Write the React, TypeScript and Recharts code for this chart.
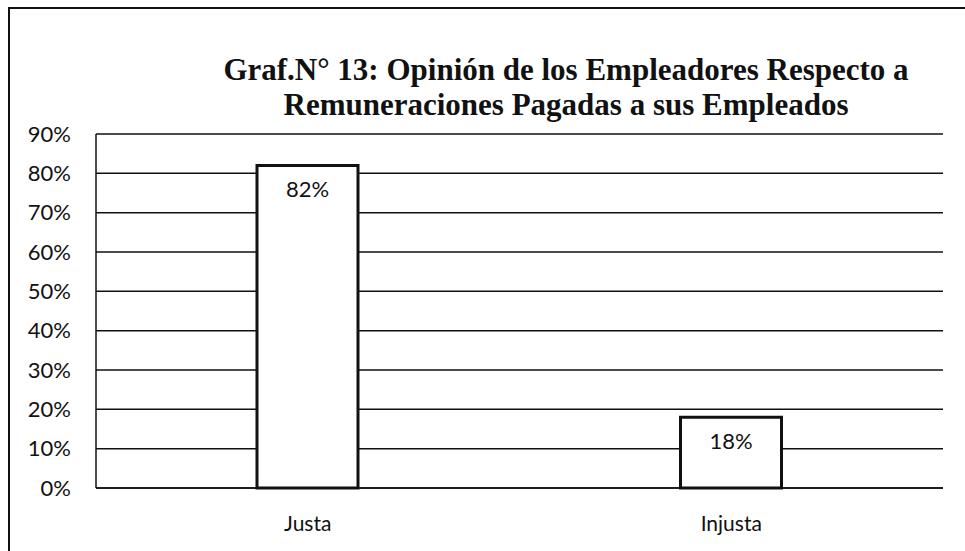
import { BarChart, Bar, XAxis, YAxis, CartesianGrid, LabelList } from "recharts";

const categories = ["Justa", "Injusta"];
const shares = [82, 18];
const yTicks = [0, 10, 20, 30, 40, 50, 60, 70, 80, 90];
const titleLines = [
  "Graf.N° 13: Opinión de los Empleadores Respecto a",
  "Remuneraciones Pagadas a sus Empleados",
];

const data = categories.map((name, i) => ({ name, value: shares[i] }));

const ink = "#111";
const labelFont = "Lato, 'Open Sans', sans-serif";

export default function App() {
  return (
    <div
      style={{
        position: "fixed",
        left: 0,
        top: 0,
        width: 965,
        height: 551,
        background: "white",
        overflow: "hidden",
      }}
    >
      <div
        style={{
          position: "absolute",
          left: 8,
          top: 7,
          width: 980,
          height: 580,
          border: `2px solid ${ink}`,
        }}
      />
      <div
        style={{
          position: "absolute",
          left: 166,
          top: 52,
          width: 800,
          textAlign: "center",
          fontFamily: "'Liberation Serif', 'Times New Roman', serif",
          fontWeight: 700,
          fontSize: 31,
          lineHeight: "35px",
          color: ink,
          whiteSpace: "nowrap",
        }}
      >
        {titleLines.map((t) => (
          <div key={t}>{t}</div>
        ))}
      </div>
      <div style={{ position: "absolute", left: 0, top: 0 }}>
        <BarChart
          width={965}
          height={551}
          data={data}
          margin={{ top: 134, right: 22, bottom: 33, left: 0 }}
        >
          <CartesianGrid vertical={false} stroke={ink} strokeWidth={1.5} />
          <XAxis
            dataKey="name"
            height={30}
            axisLine={{ stroke: ink, strokeWidth: 1.5 }}
            tickLine={false}
            tickSize={0}
            tickMargin={28}
            tick={{ fill: ink, fontSize: 21, fontFamily: labelFont }}
          />
          <YAxis
            width={96}
            domain={[0, 90]}
            ticks={yTicks}
            interval={0}
            axisLine={{ stroke: ink, strokeWidth: 1.5 }}
            tickLine={false}
            tickSize={0}
            tickMargin={25}
            tickFormatter={(v) => `${v}%`}
            tick={{ fill: ink, fontSize: 22, fontFamily: labelFont }}
          />
          <Bar
            dataKey="value"
            fill="#fff"
            stroke={ink}
            strokeWidth={3}
            barSize={101}
            isAnimationActive={false}
          >
            <LabelList
              dataKey="value"
              position="insideTop"
              offset={16}
              formatter={(v: any) => `${v}%`}
              style={{ fill: ink, fontSize: 22, fontFamily: labelFont }}
            />
          </Bar>
        </BarChart>
      </div>
    </div>
  );
}
